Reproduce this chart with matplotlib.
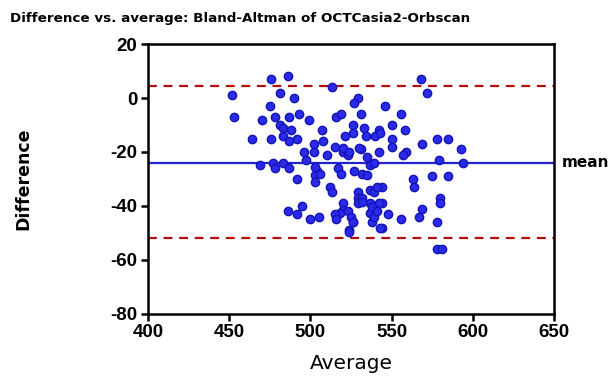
import numpy as np
from matplotlib import pyplot as plt

plt.rcParams['axes.unicode_minus'] = False

# Bland-Altman: average (x) vs difference (y)
avg = [452, 453, 464, 470, 469, 476, 486, 481, 490, 475, 478, 487, 493, 499,
       481, 483, 488, 476, 483, 487, 492, 496, 477, 478, 483, 487, 497, 492,
       486, 492, 495, 500, 505, 513, 529, 527, 546, 516, 519, 531, 526, 533,
       542, 507, 521, 526, 534, 540, 508, 502, 515, 531, 542, 502, 510, 520,
       523, 535, 568, 572, 556, 550, 543, 558, 550, 550, 569, 578, 585, 593,
       559, 557, 579, 594, 563, 564, 575, 585, 544, 580, 580, 544, 569, 548,
       556, 567, 578, 544, 578, 581, 504, 503, 506, 517, 519, 527, 532, 535,
       537, 503, 512, 513, 529, 529, 532, 537, 539, 541, 520, 520, 518, 537,
       540, 537, 542, 515, 516, 526, 524, 538, 543, 523, 525, 526, 524, 529,
       532, 538, 539, 541, 539, 503, 520, 530, 524]
diff = [1, -7, -15, -8, -25, 7, 8, 2, 0, -3, -7, -7, -6, -8,
        -10, -11, -12, -15, -14, -16, -15, -20, -24, -26, -24, -26, -23, -30,
        -42, -43, -40, -45, -44, 4, 0, -2, -3, -7, -6, -6, -10, -11,
        -12, -12, -14, -13, -14, -14, -16, -17, -18, -19, -20, -20, -21, -20,
        -21, -22, 7, 2, -6, -10, -13, -12, -15, -18, -17, -15, -15, -19,
        -20, -21, -23, -24, -30, -33, -29, -29, -33, -37, -39, -39, -41, -43,
        -45, -44, -46, -48, -56, -56, -27, -28.5, -28, -26, -28, -27, -28, -28.5,
        -25, -31, -33, -35, -35, -37, -37, -34, -35, -33, -39, -41.5, -42.5, -39,
        -40.5, -42.5, -39, -43, -45, -46, -49, -46, -48, -42, -44, -46, -49.5, -39,
        -38.5, -40.5, -44, -42, -24, -25.5, -18.5, -18.5, -20]

mean_diff = -24
upper_loa = 4.5
lower_loa = -52

fig = plt.figure(figsize=(6.15, 3.8), dpi=100)
ax = fig.add_axes([0.2407, 0.1737, 0.6601, 0.7105])

ax.axhline(upper_loa, color='#b01010', linestyle=(0, (4, 3)), linewidth=1.6, zorder=1)
ax.axhline(lower_loa, color='#b01010', linestyle=(0, (4, 3)), linewidth=1.6, zorder=1)
ax.axhline(mean_diff, color='#2222cc', linewidth=1.6, zorder=1)
ax.plot(avg, diff, 'o', markersize=6.0, markerfacecolor='#2a2ae8',
        markeredgecolor='#1414b8', markeredgewidth=1.0, zorder=3)

ax.set_xlim(400, 650)
ax.set_ylim(-80, 20)
ax.set_xticks(np.arange(400, 651, 50))
ax.set_yticks(np.arange(-80, 21, 20))

for s in ax.spines.values():
    s.set_linewidth(1.8)
ax.tick_params(direction='out', length=5, width=1.8, labelsize=13.5, pad=2.5)
for lab in ax.get_xticklabels() + ax.get_yticklabels():
    lab.set_family('Liberation Sans')
    lab.set_fontweight('bold')

ax.set_xlabel('Average', fontsize=14.5, family='DejaVu Sans')
ax.set_ylabel('Difference', fontsize=12.5, fontweight='bold', family='DejaVu Sans')
ax.xaxis.set_label_coords(0.5, -0.148)
ax.yaxis.set_label_coords(-0.285, 0.5)
ax.text(655, mean_diff, 'mean', fontsize=11, fontweight='bold', va='center', ha='left')

fig.text(0.016, 0.952, 'Difference vs. average: Bland-Altman of OCTCasia2-Orbscan',
         fontsize=9.7, fontweight='bold', ha='left', va='center')

fig.savefig('out.png', dpi=100)
